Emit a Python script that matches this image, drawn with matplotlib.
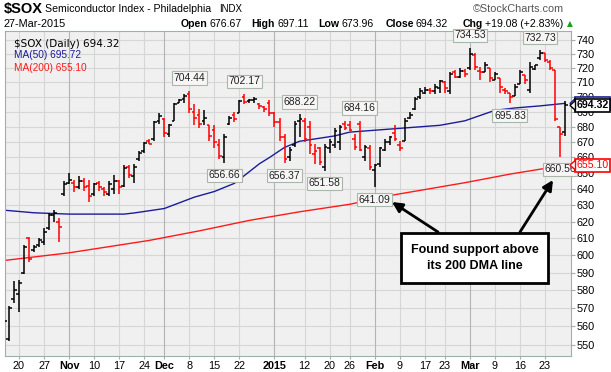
import numpy as np
import pandas as pd
import matplotlib
matplotlib.use('Agg')
import matplotlib.pyplot as plt
from matplotlib.patches import Rectangle, Polygon
from matplotlib.ticker import NullLocator

W, H = 611, 372
plt.rcParams['font.family'] = ['Liberation Sans', 'DejaVu Sans']

# --- data ---
holidays = ['2014-11-27', '2014-12-25', '2015-01-01', '2015-01-19', '2015-02-16']
dates = pd.bdate_range('2014-10-15', '2015-03-27').drop(pd.to_datetime(holidays))

opens = [560, 553, 575, 578, 590, 610, 603, 606, 608, 616, 624, 620,
         637, 644, 644, 641, 645, 642, 637, 644, 640, 637, 640, 645, 642,
         654, 648, 659, 664, 671, 672, 684, 685, 675, 684, 696, 699, 702,
         690, 688, 684, 681, 678, 668, 660, 682, 688, 689, 700, 697, 698,
         695.5, 693, 696, 689, 683, 673, 660, 668, 684, 684, 680, 662, 666,
         654, 666, 668, 670, 682, 681, 672, 682, 660, 666, 652, 656, 665,
         670, 676, 668, 671, 686, 692, 700, 703, 705, 704, 706, 710, 704,
         717, 714, 718, 720, 729, 718, 717, 720, 712, 713, 705, 703, 701,
         709, 715, 705, 719.5, 727, 731, 724, 719, 680, 676.67]
highs = [566, 571, 585, 586, 606, 611, 606, 610, 616, 625, 627, 622,
         645, 650, 646, 648, 647, 646, 644, 645, 641, 645, 649, 646, 655,
         655.5, 656, 664, 670, 672, 684, 689, 686, 682, 696, 699, 702,
         704.44, 695, 692, 691, 681, 681, 672, 675, 687, 690, 698, 702.17,
         699, 700, 696, 694, 698, 690, 686, 675, 667, 684, 688.22, 686,
         684, 669, 667, 669, 672, 679, 681, 684, 684, 675, 684.16, 668,
         668, 656, 667, 672, 674, 681, 671, 686, 690, 700, 706, 707, 706,
         709, 712, 711, 717, 719, 720, 719.5, 734.53, 731, 721, 724, 720,
         717, 713, 706, 703, 709, 719, 715, 724, 722.5, 732.73, 731, 726,
         719, 680, 697.11]
lows = [548, 552, 573, 568, 589, 596, 602, 605, 606, 615, 620, 608,
        636, 643, 638, 640, 639, 632, 636, 639, 636, 636, 637, 637, 641,
        647, 644, 658, 663, 668.5, 671, 682, 673, 673, 684, 696, 696, 689,
        681, 679, 681, 671, 666, 659, 656.66, 681, 683, 689, 695, 696, 696,
        692, 690, 687, 680, 671, 656.37, 658, 667, 673, 670, 662, 656, 655,
        651.58, 663, 666, 665, 678, 677, 665, 664, 658, 652, 641.09, 654,
        664, 668, 671, 664, 671, 685, 691, 699, 702, 702, 702, 703, 703,
        702, 713, 713, 714, 719, 719, 712, 717, 710, 712, 703, 702, 695.83,
        701, 709, 709, 703, 719, 726, 724, 719, 684, 660.56, 673.96]
closes = [563, 570, 580, 584, 605, 598, 605, 609, 614, 624, 625, 617,
          643, 646, 641, 645, 641, 636, 643, 641, 638, 643, 645, 641, 653,
          649, 654, 663, 669.5, 669, 683, 687, 676, 681, 695, 698, 701, 692,
          686, 682, 686, 674, 670, 661, 673, 686, 685, 697, 696.5, 698, 699,
          694, 692, 689, 683, 673, 659, 665, 682, 685.5, 672, 668, 664, 657,
          667, 670, 677, 680, 679, 678, 667, 665, 667, 654, 655, 666, 670,
          673, 672, 666, 684, 688, 699, 704, 705, 704, 707, 711, 706, 716,
          714, 718, 716, 730, 721, 717, 722, 713, 716, 707, 704, 700, 707,
          717, 712, 721, 722, 731, 726, 720, 685, 675.24, 694.32]

ma50_dates = ['2014-10-15', '2014-10-23', '2014-11-03', '2014-11-18', '2014-11-20',
              '2014-12-01', '2014-12-09', '2014-12-15', '2014-12-19', '2014-12-24',
              '2014-12-29', '2014-12-31', '2015-01-06', '2015-01-09', '2015-01-15',
              '2015-01-21', '2015-01-26', '2015-02-03', '2015-02-11', '2015-02-20',
              '2015-02-27', '2015-03-04', '2015-03-09', '2015-03-13', '2015-03-20',
              '2015-03-27']
ma50_vals = [627, 625.4, 624.6, 624.6, 625.3, 628, 635, 638.5, 643.6, 651,
             656, 660, 666.5, 670.5, 672.5, 674, 676.5, 678, 679.5, 681,
             684, 687.5, 691, 692.6, 694, 695.72]
ma200_dates = ['2014-10-15', '2014-11-03', '2014-11-18', '2014-11-25', '2014-12-10',
               '2014-12-24', '2015-01-09', '2015-01-26', '2015-02-06', '2015-02-27',
               '2015-03-12', '2015-03-27']
ma200_vals = [597, 601.5, 606.5, 608.8, 614.5, 620.8, 626, 630.6, 636.5, 644,
              649.4, 655.1]

# swing labels: date, value, above/below
swing_dates = ['2014-12-08', '2014-12-17', '2014-12-23', '2015-01-06', '2015-01-09',
               '2015-01-16', '2015-01-28', '2015-02-02', '2015-03-02', '2015-03-12',
               '2015-03-20', '2015-03-26']
swing_vals = [704.44, 656.66, 702.17, 656.37, 688.22, 651.58, 684.16, 641.09,
              734.53, 695.83, 732.73, 660.56]
swing_side = ['H', 'L', 'H', 'L', 'H', 'L', 'H', 'L', 'H', 'L', 'H', 'L']

tick_dates = ['2014-10-20', '2014-10-27', '2014-11-03', '2014-11-10', '2014-11-17',
              '2014-11-24', '2014-12-01', '2014-12-08', '2014-12-15', '2014-12-22',
              '2015-01-02', '2015-01-12', '2015-01-20', '2015-01-26', '2015-02-02',
              '2015-02-09', '2015-02-17', '2015-02-23', '2015-03-02', '2015-03-09',
              '2015-03-16', '2015-03-23']
tick_labels = ['20', '27', 'Nov', '10', '17', '24', 'Dec', '8', '15', '22', '2015',
               '12', '20', '26', 'Feb', '9', '17', '23', 'Mar', '9', '16', '23']
price_ticks = list(range(550, 741, 10))

opens, highs, lows, closes = map(np.array, (opens, highs, lows, closes))
pos = lambda d: dates.get_loc(pd.Timestamp(d))

# --- figure ---
fig = plt.figure(figsize=(W / 100, H / 100), dpi=100)
fig.patch.set_facecolor('white')
L, R, T, B = 5, 571, 31, 356
YTOP, YBOT = 746.5, 544.0
ax = fig.add_axes([L / W, 1 - B / H, (R - L) / W, (B - T) / H])
ax.set_facecolor('#f0f0f0')
ax.set_yscale('log')
ax.set_xlim(0.21, 113.18)
ax.set_ylim(YBOT, YTOP)

# grid
for v in price_ticks:
    ax.axhline(v, color='#d6d6d6', lw=0.8, zorder=0)
for d, lab in zip(tick_dates, tick_labels):
    month = not lab.isdigit() or lab == '2015'
    ax.axvline(pos(d), color='#b4b4b4' if month else '#d6d6d6', lw=0.8, zorder=0)

for s in ax.spines.values():
    s.set_color('#9fb0a6')
    s.set_linewidth(0.8)

ax.yaxis.tick_right()
ax.set_yticks(price_ticks)
ax.set_yticklabels([str(v) for v in price_ticks])
ax.yaxis.set_minor_locator(NullLocator())
ax.tick_params(axis='y', length=3, width=0.8, pad=1, labelsize=7.8, color='#9fb0a6')

ax.set_xticks([pos(d) for d in tick_dates])
ax.set_xticklabels(tick_labels)
for t, lab in zip(ax.get_xticklabels(), tick_labels):
    if not lab.isdigit() or lab == '2015':
        t.set_fontweight('bold')
ax.tick_params(axis='x', length=2, width=0.8, pad=1.5, labelsize=7.8, color='#9fb0a6')

# moving averages
ax.plot([pos(d) for d in ma200_dates], ma200_vals, color='#ff1a1a', lw=1.0, zorder=2)
ax.plot([pos(d) for d in ma50_dates], ma50_vals, color='#1c1c9a', lw=1.0, zorder=2)

# OHLC bars
x = np.arange(len(dates))
prev = np.r_[closes[0], closes[:-1]]
cols = np.where(closes < prev, '#ff0000', '#000000')
ax.vlines(x, lows, highs, colors=cols, lw=1.1, zorder=3)
ax.hlines(opens, x - 0.55, x, colors=cols, lw=1.1, zorder=3)
ax.hlines(closes, x, x + 0.55, colors=cols, lw=1.1, zorder=3)

# swing labels
for d, v, side in zip(swing_dates, swing_vals, swing_side):
    off = 9 if side == 'H' else -9
    ax.annotate(f'{v:.2f}', xy=(pos(d), v), xytext=(0, off), textcoords='offset points',
                ha='center', va='center', fontsize=7.5, color='#222222', zorder=5,
                bbox=dict(boxstyle='square,pad=0.15', fc='#f6f6f6', ec='#a9b7a9', lw=0.8),
                annotation_clip=False)

# legend inside plot
ax.text(0.016, 0.975, '$SOX (Daily) 694.32', transform=ax.transAxes, fontsize=7.5,
        family='DejaVu Sans', va='top', ha='left', zorder=6)
ax.text(0.016, 0.94, 'MA(50) 695.72', transform=ax.transAxes, fontsize=7.3,
        color='#1c1c9a', va='top', ha='left', zorder=6)
ax.text(0.016, 0.902, 'MA(200) 655.10', transform=ax.transAxes, fontsize=7.3,
        color='#ff1a1a', va='top', ha='left', zorder=6)


def ftxt(px, py, s, **kw):
    return fig.text(px / W, 1 - py / H, s, va='center', ha=kw.pop('ha', 'left'), **kw)


# header
ftxt(4, 9, '$SOX', fontsize=10.5, fontweight='bold')
ftxt(45, 9, 'Semiconductor Index - Philadelphia', fontsize=7.6)
ftxt(219, 9, 'INDX', fontsize=7)
ftxt(564, 9, '\u00a9StockCharts.com', fontsize=7.8, color='#555555', ha='right')
ftxt(4, 24, '27-Mar-2015', fontsize=7.8)
row = [('Open', '676.67', 209), ('High', '697.11', 277), ('Low', '673.96', 341),
       ('Close', '694.32', 416), ('Chg', '+19.08 (+2.83%)', 485)]
for key, val, px in row:
    ftxt(px - 2, 24, key, fontsize=7.6, fontweight='bold', ha='right')
    ftxt(px, 24, val, fontsize=7.6)
ftxt(570, 24, '\u25b2', fontsize=5.5, color='#1aa01a', ha='center', family='DejaVu Sans')

# right-side value boxes
def ybox(v):
    return T + (B - T) * np.log(YTOP / v) / np.log(YTOP / YBOT)

for v, txt, ec, tc, bold in [(695.72, '', '#1c1c9a', '#1c1c9a', False),
                             (694.32, '694.32', '#000000', '#000000', True),
                             (655.10, '655.10', '#ff0000', '#ff0000', False)]:
    yy = ybox(v)
    fig.add_artist(Rectangle((575 / W, 1 - (yy + 6.5) / H), 35 / W, 13 / H,
                             transform=fig.transFigure, fc='white', ec=ec, lw=1.2, zorder=8))
    fig.add_artist(Polygon([(570 / W, 1 - yy / H), (575.5 / W, 1 - (yy - 5) / H),
                            (575.5 / W, 1 - (yy + 5) / H)], closed=True,
                           transform=fig.transFigure, fc='white', ec=ec, lw=1.0, zorder=8))
    if txt:
        ftxt(592.5, yy, txt, fontsize=7.6, color=tc, ha='center', zorder=9,
             fontweight='bold' if bold else 'normal')

# callout
fig.add_artist(Rectangle((401 / W, 1 - 283 / H), 147 / W, 50 / H, transform=fig.transFigure,
                         fc='white', ec='black', lw=2, zorder=8))
ftxt(474.5, 258, 'Found support above\nits 200 DMA line', fontsize=9, fontweight='bold',
     ha='center', ma='center', linespacing=1.35, zorder=9)
for (x0, y0), (x1, y1) in [((438, 232), (392, 202)), ((520, 232), (553, 180))]:
    ax.annotate('', xy=(x1, H - y1), xycoords='figure pixels', xytext=(x0, H - y0),
                textcoords='figure pixels', annotation_clip=False,
                arrowprops=dict(arrowstyle='-|>', lw=2, color='black', mutation_scale=15,
                                shrinkA=0, shrinkB=0), zorder=9)

fig.savefig('out.png', dpi=100)
